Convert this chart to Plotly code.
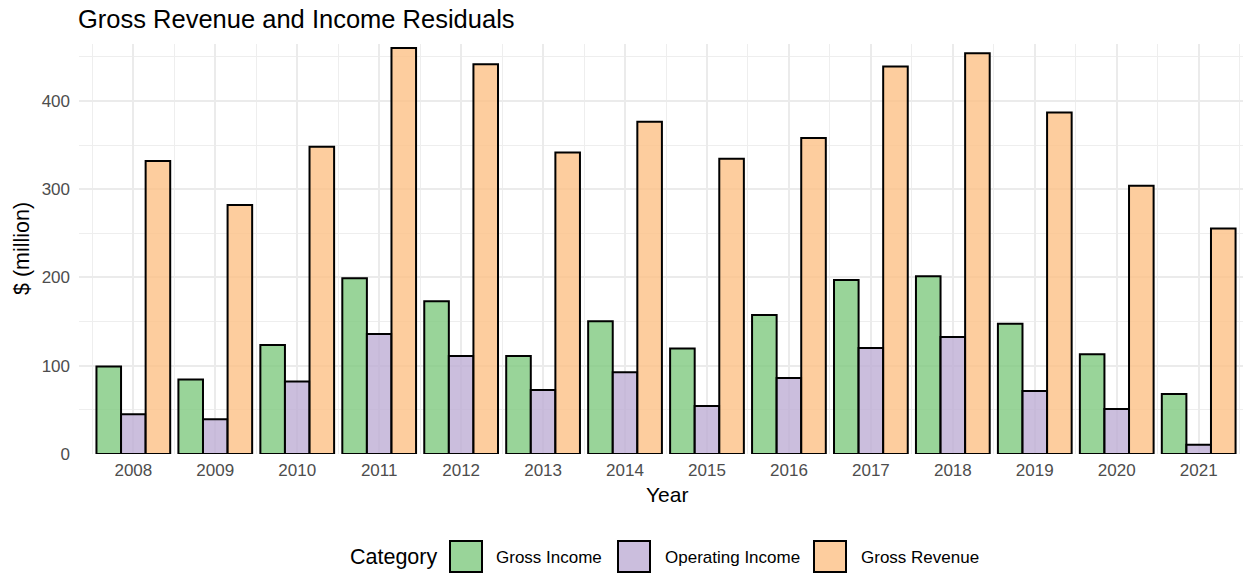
#----Librairies----
import plotly.graph_objects as go

#----Données----
years = [2008, 2009, 2010, 2011, 2012, 2013, 2014, 2015, 2016, 2017, 2018, 2019, 2020, 2021]
gross_income = [99, 84.5, 123.5, 199, 173, 111, 150.5, 119.5, 157.5, 197, 201.5, 147.5, 113, 68]
operating_income = [45, 39.5, 82, 136, 111, 72.5, 92.5, 54.5, 86, 120, 132.5, 71.5, 51, 10.5]
gross_revenue = [332, 282, 348, 460, 441.5, 341.5, 376.5, 334.5, 358, 439, 454, 387, 304, 255.5]

categories = ["Gross Income", "Operating Income", "Gross Revenue"]
colors = ["rgba(127,201,127,0.8)", "rgba(190,174,212,0.8)", "rgba(253,192,134,0.8)"]

FONT = "Liberation Sans, Arial, sans-serif"
W, H = 1243, 573
# zone du panneau en pixels
PL, PR, PT, PB = 79, 1243, 44, 454


def px_to_paper(x, y):
    return (x - PL) / (PR - PL), (PB - y) / (PB - PT)


#----Figure----
fig = go.Figure()
for name, vals, col in zip(categories, [gross_income, operating_income, gross_revenue], colors):
    fig.add_trace(go.Bar(
        x=years, y=vals, name=name,
        marker=dict(color=col, line=dict(color="black", width=2)),
        showlegend=False,
    ))

# légende faite à la main (carrés larges comme ggplot)
shapes = []
annotations = []
legend_items = [(450, 494), (618, 663), (814, 859)]
for (bx, tx), name, col in zip(legend_items, categories, colors):
    x0, y0 = px_to_paper(bx, 572)
    x1, y1 = px_to_paper(bx + 32, 541)
    shapes.append(dict(type="rect", xref="paper", yref="paper", x0=x0, x1=x1, y0=y0, y1=y1,
                       fillcolor=col, line=dict(color="black", width=2)))
    ax, ay = px_to_paper(tx, 557)
    annotations.append(dict(text=name, xref="paper", yref="paper", x=ax, y=ay,
                            xanchor="left", yanchor="middle", showarrow=False,
                            font=dict(size=17, color="black", family=FONT)))
cx, cy = px_to_paper(439, 557)
annotations.append(dict(text="Category", xref="paper", yref="paper", x=cx, y=cy,
                        xanchor="right", yanchor="middle", showarrow=False,
                        font=dict(size=21.5, color="black", family=FONT)))

# titres des axes
yr_x, yr_y = px_to_paper(667, 494)
annotations.append(dict(text="Year", xref="paper", yref="paper", x=yr_x, y=yr_y,
                        xanchor="center", yanchor="middle", showarrow=False,
                        font=dict(size=21, color="black", family=FONT)))
yx_, yy_ = px_to_paper(22, (PT + PB) / 2)
annotations.append(dict(text="$ (million)", xref="paper", yref="paper", x=yx_, y=yy_,
                        xanchor="center", yanchor="middle", showarrow=False, textangle=-90,
                        font=dict(size=21.5, color="black", family=FONT)))

fig.update_layout(
    width=W, height=H,
    margin=dict(l=PL, r=W - PR, t=PT, b=H - PB, autoexpand=False),
    plot_bgcolor="white", paper_bgcolor="white",
    barmode="group", bargap=0.1, bargroupgap=0,
    font=dict(family=FONT),
    title=dict(text="Gross Revenue and Income Residuals", x=78 / W, xanchor="left",
               xref="container", y=1 - 19 / H, yanchor="middle", yref="container",
               font=dict(size=25.5, color="black", family=FONT)),
    shapes=shapes,
    annotations=annotations,
)

fig.update_xaxes(
    range=[2007.337, 2007.337 + (PR - PL) / 81.95],
    tickmode="array", tickvals=years, ticktext=[str(y) for y in years],
    tickfont=dict(size=17, color="#4D4D4D"),
    showgrid=True, gridcolor="#EBEBEB", gridwidth=1.7,
    minor=dict(tick0=2007.5, dtick=1, showgrid=True, gridcolor="#EEEEEE", gridwidth=1.3),
    zeroline=False, showline=False, ticks="", ticklabelstandoff=4, automargin=False,
)
fig.update_yaxes(
    range=[0, 464.5],
    tickmode="array", tickvals=[0, 100, 200, 300, 400],
    tickfont=dict(size=17, color="#4D4D4D"),
    showgrid=True, gridcolor="#EBEBEB", gridwidth=1.7,
    minor=dict(tick0=0, dtick=50, showgrid=True, gridcolor="#EEEEEE", gridwidth=1.3),
    zeroline=False, showline=False, ticks="", ticklabelstandoff=8, automargin=False,
)

# la page a une marge de 8px par défaut : on l'enlève
fig.write_html("out.html", config={"displayModeBar": False},
               post_script="document.body.style.margin='0';")
